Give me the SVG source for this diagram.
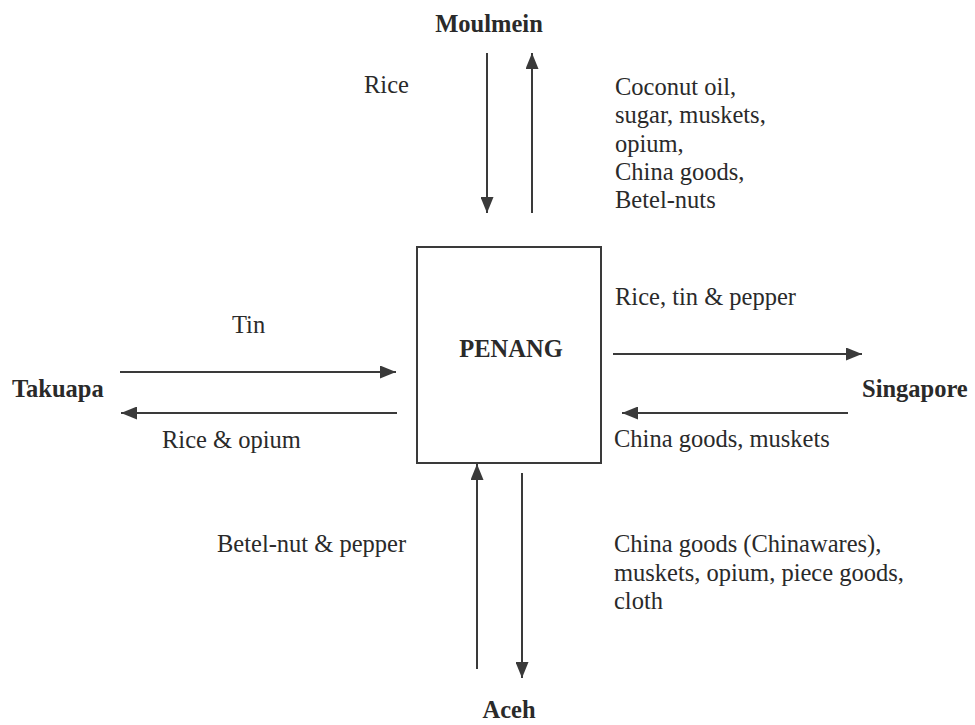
<svg xmlns="http://www.w3.org/2000/svg" width="975" height="725" viewBox="0 0 975 725">
<style>
  text { font-family: "Liberation Serif", "Times New Roman", serif; font-size: 24.5px; fill: #2a2a2a; }
  .b { font-weight: bold; }
  .m { text-anchor: middle; }
  .conn line { stroke: #3a3a3a; stroke-width: 2; marker-end: url(#ah); }
  .box { fill: #ffffff; stroke: #3a3a3a; stroke-width: 2; }
</style>
<defs>
  <marker id="ah" markerUnits="userSpaceOnUse" markerWidth="16" markerHeight="13" refX="16" refY="6.5" orient="auto">
    <path d="M0,0 L16,6.5 L0,13 z" fill="#3a3a3a"/>
  </marker>
</defs>
<rect width="975" height="725" fill="#ffffff"/>

<g id="penang">
  <rect class="box" x="417" y="247" width="184" height="216"/>
  <text class="b m" x="511" y="357">PENANG</text>
</g>
<g id="moulmein"><text class="b m" x="489" y="32">Moulmein</text></g>
<g id="takuapa"><text class="b" x="12" y="397">Takuapa</text></g>
<g id="singapore"><text class="b" x="862" y="397">Singapore</text></g>
<g id="aceh"><text class="b m" x="509" y="718">Aceh</text></g>

<g id="connectors" class="conn">
  <line x1="487" y1="53" x2="487" y2="213"/>
  <line x1="532" y1="213" x2="532" y2="53"/>
  <line x1="120" y1="372" x2="396" y2="372"/>
  <line x1="397" y1="413" x2="121" y2="413"/>
  <line x1="613" y1="354" x2="862" y2="354"/>
  <line x1="848" y1="413" x2="622" y2="413"/>
  <line x1="477" y1="669" x2="477" y2="464"/>
  <line x1="522" y1="473" x2="522" y2="678"/>
</g>

<g id="labels">
  <text x="364" y="93">Rice</text>
  <text x="615">
    <tspan x="615" y="95">Coconut oil,</tspan>
    <tspan x="615" y="123">sugar, muskets,</tspan>
    <tspan x="615" y="152">opium,</tspan>
    <tspan x="615" y="180">China goods,</tspan>
    <tspan x="615" y="208">Betel-nuts</tspan>
  </text>
  <text x="232" y="333">Tin</text>
  <text x="162" y="448">Rice &amp; opium</text>
  <text x="615" y="305">Rice, tin &amp; pepper</text>
  <text x="614" y="447">China goods, muskets</text>
  <text x="217" y="552">Betel-nut &amp; pepper</text>
  <text x="614">
    <tspan x="614" y="552">China goods (Chinawares),</tspan>
    <tspan x="614" y="581">muskets, opium, piece goods,</tspan>
    <tspan x="614" y="609">cloth</tspan>
  </text>
</g>
</svg>
